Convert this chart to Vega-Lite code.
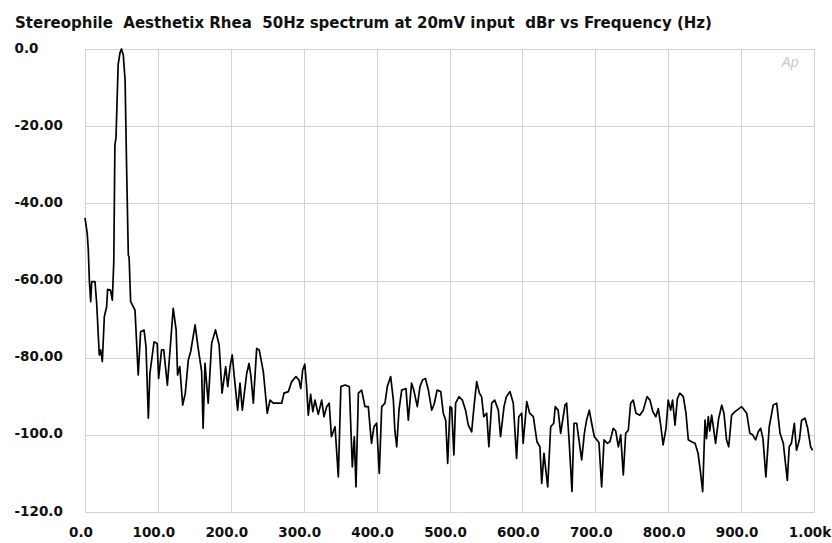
{
  "$schema": "https://vega.github.io/schema/vega-lite/v6.json",
  "width": 729,
  "height": 463,
  "autosize": {"type": "none"},
  "padding": {"left": 85, "top": 49, "right": 18, "bottom": 31},
  "background": "white",
  "title": {
    "text": "Stereophile\u00a0 Aesthetix Rhea\u00a0 50Hz spectrum at 20mV input\u00a0 dBr vs Frequency (Hz)",
    "anchor": "start",
    "frame": "group",
    "orient": "top",
    "dx": -70,
    "dy": 20,
    "offset": 18,
    "baseline": "alphabetic",
    "font": "DejaVu Sans",
    "fontSize": 15,
    "fontWeight": "bold",
    "color": "#111111"
  },
  "config": {
    "view": {"stroke": "#c4c4c4", "strokeWidth": 1},
    "axis": {
      "domain": false,
      "ticks": false,
      "gridColor": "#d2d2d2",
      "gridWidth": 1,
      "labelFont": "DejaVu Sans",
      "labelFontWeight": "bold",
      "labelFontSize": 13.5,
      "labelColor": "#111111",
      "title": null
    }
  },
  "layer": [
    {
      "data": {
        "values": [
          {"f": 0, "db": -43.8}, {"f": 3, "db": -47.7}, {"f": 4.5, "db": -52}, {"f": 6, "db": -60},
          {"f": 7.8, "db": -65.5}, {"f": 9.2, "db": -60.3}, {"f": 13.7, "db": -60.3}, {"f": 16, "db": -65.9},
          {"f": 19.6, "db": -79.3}, {"f": 21.5, "db": -78}, {"f": 23.8, "db": -81}, {"f": 26.5, "db": -69.4},
          {"f": 29.7, "db": -66.8}, {"f": 31, "db": -62.3}, {"f": 35, "db": -62.5}, {"f": 37.5, "db": -65.1},
          {"f": 39.5, "db": -55}, {"f": 41, "db": -25}, {"f": 42.5, "db": -23}, {"f": 45.5, "db": -4},
          {"f": 48, "db": -1}, {"f": 50, "db": 0}, {"f": 52.5, "db": -1.5}, {"f": 55, "db": -8},
          {"f": 57, "db": -30}, {"f": 59.4, "db": -53.4}, {"f": 60.5, "db": -54}, {"f": 62.6, "db": -65.5},
          {"f": 68.6, "db": -67.7}, {"f": 73, "db": -84.5}, {"f": 76.3, "db": -73.3}, {"f": 81, "db": -72.8},
          {"f": 83.7, "db": -77.2}, {"f": 86.9, "db": -95.7}, {"f": 89, "db": -84.1}, {"f": 94.7, "db": -75.9},
          {"f": 99, "db": -76.3}, {"f": 101, "db": -85.4}, {"f": 105, "db": -78}, {"f": 108, "db": -78},
          {"f": 113, "db": -87.1}, {"f": 121, "db": -67.2}, {"f": 125, "db": -72.8}, {"f": 127, "db": -84.5},
          {"f": 130, "db": -82.3}, {"f": 134, "db": -92.3}, {"f": 137.6, "db": -89.2}, {"f": 141.7, "db": -80.6},
          {"f": 145, "db": -78.4}, {"f": 151, "db": -71.5}, {"f": 155, "db": -77.2}, {"f": 160, "db": -83.6},
          {"f": 162, "db": -98.3}, {"f": 164.6, "db": -81.5}, {"f": 169, "db": -91.8}, {"f": 173.7, "db": -76.3},
          {"f": 179, "db": -72.8}, {"f": 184, "db": -76.7}, {"f": 188, "db": -89.2}, {"f": 193, "db": -82.3},
          {"f": 195.8, "db": -87.5}, {"f": 199, "db": -82.3}, {"f": 202, "db": -79.3}, {"f": 204.8, "db": -84.9},
          {"f": 209.4, "db": -93.6}, {"f": 212.6, "db": -86.6}, {"f": 215.8, "db": -93.6}, {"f": 221.8, "db": -84.1},
          {"f": 225, "db": -81.5}, {"f": 227.7, "db": -84.9}, {"f": 230.9, "db": -91.8}, {"f": 235.5, "db": -77.6},
          {"f": 239, "db": -78}, {"f": 244.6, "db": -83.6}, {"f": 250, "db": -94.4}, {"f": 253.8, "db": -91},
          {"f": 258.3, "db": -91.8}, {"f": 265, "db": -91.8}, {"f": 269.8, "db": -91.8}, {"f": 273, "db": -89.2},
          {"f": 279, "db": -88.8}, {"f": 283.5, "db": -86.2}, {"f": 289.4, "db": -84.9}, {"f": 293.5, "db": -85.8},
          {"f": 296, "db": -88}, {"f": 298.6, "db": -83.2}, {"f": 301.5, "db": -81.7}, {"f": 304, "db": -87.5},
          {"f": 306.3, "db": -94.9}, {"f": 309.5, "db": -89.5}, {"f": 312.5, "db": -94}, {"f": 315.5, "db": -91},
          {"f": 320, "db": -94.7}, {"f": 324.7, "db": -91}, {"f": 327.8, "db": -95.3}, {"f": 331.5, "db": -92.7},
          {"f": 335, "db": -91.8}, {"f": 338, "db": -100.5}, {"f": 343, "db": -97.9}, {"f": 347.5, "db": -110.9},
          {"f": 351, "db": -87.5}, {"f": 356.7, "db": -87.1}, {"f": 362.6, "db": -87.5}, {"f": 366.7, "db": -108.3},
          {"f": 369.4, "db": -100.5}, {"f": 371.7, "db": -113.5}, {"f": 375, "db": -89.2}, {"f": 379.5, "db": -88.4},
          {"f": 384, "db": -92.7}, {"f": 388.6, "db": -92.7}, {"f": 393, "db": -102.2}, {"f": 396.4, "db": -97.9},
          {"f": 400, "db": -97}, {"f": 403.7, "db": -110}, {"f": 407, "db": -92.7}, {"f": 411.5, "db": -91.8},
          {"f": 414.7, "db": -87.5}, {"f": 419.3, "db": -84.9}, {"f": 423, "db": -91}, {"f": 425, "db": -98.8},
          {"f": 427.6, "db": -103.1}, {"f": 430.7, "db": -93.6}, {"f": 434.4, "db": -88.4}, {"f": 440.3, "db": -88},
          {"f": 443.5, "db": -96.2}, {"f": 448, "db": -86.6}, {"f": 451, "db": -88.4}, {"f": 455.8, "db": -92.7},
          {"f": 459.5, "db": -87.5}, {"f": 463, "db": -85.8}, {"f": 467, "db": -85.4}, {"f": 471, "db": -88.4},
          {"f": 475.6, "db": -93.6}, {"f": 479, "db": -92}, {"f": 483, "db": -88.4}, {"f": 488, "db": -88.8},
          {"f": 491.5, "db": -94.4}, {"f": 494.8, "db": -96.2}, {"f": 497.5, "db": -107.4}, {"f": 500.7, "db": -92.7},
          {"f": 503, "db": -93}, {"f": 506, "db": -105.2}, {"f": 508.4, "db": -91.8}, {"f": 513, "db": -90.1},
          {"f": 517.6, "db": -91}, {"f": 522, "db": -93.6}, {"f": 525.8, "db": -97.5}, {"f": 530.4, "db": -99.2},
          {"f": 533.6, "db": -92.7}, {"f": 537.3, "db": -86.2}, {"f": 541, "db": -89.2}, {"f": 544, "db": -90.1},
          {"f": 547, "db": -95.3}, {"f": 551, "db": -94.4}, {"f": 554, "db": -103.1}, {"f": 557.9, "db": -91.8},
          {"f": 562, "db": -91}, {"f": 567, "db": -93.6}, {"f": 570, "db": -100.5}, {"f": 574.8, "db": -92.7},
          {"f": 578, "db": -90.1}, {"f": 583, "db": -88.8}, {"f": 587.5, "db": -91.8}, {"f": 592, "db": -106.1},
          {"f": 595, "db": -95.3}, {"f": 599, "db": -94.4}, {"f": 601, "db": -102.2}, {"f": 606, "db": -91.4},
          {"f": 610, "db": -94.4}, {"f": 615, "db": -95.3}, {"f": 620, "db": -101.8}, {"f": 624, "db": -103.1},
          {"f": 626.5, "db": -112.6}, {"f": 629.6, "db": -104.8}, {"f": 634.7, "db": -113.5}, {"f": 638.8, "db": -97.9},
          {"f": 643, "db": -97}, {"f": 645, "db": -92.7}, {"f": 649, "db": -93.6}, {"f": 652.5, "db": -99.6},
          {"f": 658.4, "db": -92.3}, {"f": 660.7, "db": -91.8}, {"f": 664, "db": -101.3}, {"f": 668, "db": -114.7},
          {"f": 670.8, "db": -97}, {"f": 674.5, "db": -97}, {"f": 677.6, "db": -101.3}, {"f": 681.3, "db": -106.5},
          {"f": 685, "db": -99.6}, {"f": 688, "db": -96.2}, {"f": 691.8, "db": -93.6}, {"f": 695, "db": -97},
          {"f": 698.7, "db": -100.5}, {"f": 702, "db": -101.3}, {"f": 705, "db": -102}, {"f": 708.7, "db": -113.5},
          {"f": 712, "db": -101.3}, {"f": 716.5, "db": -102.2}, {"f": 720, "db": -101.8}, {"f": 724.7, "db": -98.3},
          {"f": 728, "db": -99}, {"f": 731.6, "db": -103.1}, {"f": 734.8, "db": -100}, {"f": 738.4, "db": -110.4},
          {"f": 741.7, "db": -99.6}, {"f": 745.3, "db": -98.8}, {"f": 748.5, "db": -91.8}, {"f": 752, "db": -91},
          {"f": 755.8, "db": -94.4}, {"f": 761, "db": -94.9}, {"f": 765.8, "db": -93.6}, {"f": 771, "db": -90.1},
          {"f": 775, "db": -91}, {"f": 779, "db": -94}, {"f": 783, "db": -95.3}, {"f": 786.4, "db": -93.2},
          {"f": 790, "db": -97.9}, {"f": 793, "db": -102.6}, {"f": 797, "db": -98.3}, {"f": 800, "db": -91},
          {"f": 803.4, "db": -93.6}, {"f": 806, "db": -91}, {"f": 809.3, "db": -97.5}, {"f": 812.6, "db": -90.6},
          {"f": 816, "db": -89.2}, {"f": 820.7, "db": -90.1}, {"f": 824.4, "db": -94.4}, {"f": 827.6, "db": -101.3},
          {"f": 832, "db": -101.8}, {"f": 836.8, "db": -102.2}, {"f": 841, "db": -104.8}, {"f": 844.5, "db": -110},
          {"f": 847.3, "db": -114.7}, {"f": 850.5, "db": -96.2}, {"f": 852.5, "db": -101}, {"f": 855, "db": -95.3},
          {"f": 857, "db": -99}, {"f": 859.6, "db": -94.9}, {"f": 862, "db": -98}, {"f": 865, "db": -102.2},
          {"f": 869, "db": -96}, {"f": 873.4, "db": -92.3}, {"f": 876.5, "db": -94.4}, {"f": 880, "db": -101.3},
          {"f": 883, "db": -103.1}, {"f": 887, "db": -94.9}, {"f": 891.6, "db": -94}, {"f": 900.8, "db": -92.7},
          {"f": 907.7, "db": -94.4}, {"f": 912, "db": -99.6}, {"f": 915.8, "db": -100}, {"f": 920, "db": -101.3},
          {"f": 923.6, "db": -99.2}, {"f": 926.8, "db": -98.3}, {"f": 930, "db": -101}, {"f": 934, "db": -110.9},
          {"f": 938.6, "db": -97.9}, {"f": 944, "db": -92.3}, {"f": 948.8, "db": -91.8}, {"f": 953.4, "db": -99.6},
          {"f": 957.9, "db": -102.2}, {"f": 963.4, "db": -111.8}, {"f": 966, "db": -103.1}, {"f": 969, "db": -102.2},
          {"f": 973, "db": -97}, {"f": 976, "db": -104}, {"f": 980, "db": -101.3}, {"f": 983, "db": -96.2},
          {"f": 987.7, "db": -95.7}, {"f": 991.3, "db": -98.3}, {"f": 995.4, "db": -103.1}, {"f": 998, "db": -104}
        ]
      },
      "mark": {"type": "line", "color": "#000000", "strokeWidth": 1.7, "strokeJoin": "round"},
      "encoding": {
        "x": {
          "field": "f",
          "type": "quantitative",
          "scale": {"domain": [0, 1000], "nice": false, "zero": false},
          "axis": {
            "values": [0, 100, 200, 300, 400, 500, 600, 700, 800, 900, 1000],
            "labelExpr": "datum.value == 1000 ? '1.00k' : format(datum.value, '.1f')",
            "labelPadding": 20.5,
            "labelOffset": -4.5,
            "labelFlush": false,
            "labelOverlap": false,
            "labelBaseline": "middle",
            "labelAlign": "center"
          }
        },
        "y": {
          "field": "db",
          "type": "quantitative",
          "scale": {"domain": [-120, 0], "nice": false, "zero": false},
          "axis": {
            "values": [0, -20, -40, -60, -80, -100, -120],
            "labelExpr": "datum.value == 0 ? '0.0' : (datum.value <= -100 ? '-' + format(-datum.value, '.1f') : '-' + format(-datum.value, '.2f'))",
            "labelAlign": "left",
            "labelPadding": 71,
            "labelOffset": -1,
            "labelBaseline": "middle",
            "labelFlush": false,
            "labelOverlap": false
          }
        }
      }
    },
    {
      "data": {"values": [{"f": 967, "db": -3.6, "label": "Ap"}]},
      "mark": {"type": "text", "font": "Liberation Sans", "fontStyle": "italic", "fontSize": 14, "color": "#c8c8c8", "align": "center", "baseline": "middle"},
      "encoding": {
        "x": {"field": "f", "type": "quantitative"},
        "y": {"field": "db", "type": "quantitative"},
        "text": {"field": "label"}
      }
    }
  ]
}
